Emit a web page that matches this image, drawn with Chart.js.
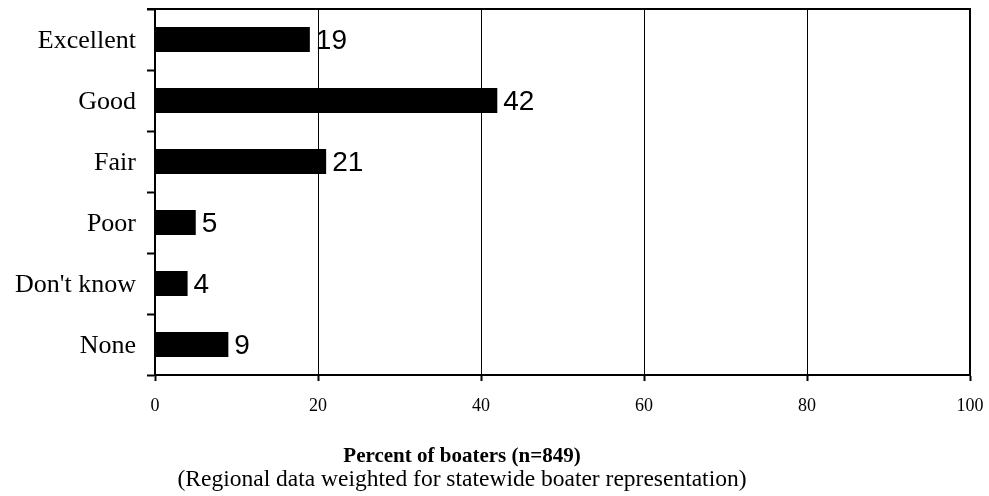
<!DOCTYPE html>
<html>
<head>
<meta charset="utf-8">
<script src="https://cdn.jsdelivr.net/npm/chart.js@4/dist/chart.umd.min.js"></script>
<style>
  html, body { margin: 0; padding: 0; background: #fff; }
  canvas { display: block; }
</style>
</head>
<body>
<canvas id="chart" width="989" height="496"></canvas>
<script>
// Boater ratings, percent of respondents
const categories = ["Excellent", "Good", "Fair", "Poor", "Don't know", "None"];
const percents = [19, 42, 21, 5, 4, 9];
const xTicks = [0, 20, 40, 60, 80, 100];
const axisTitle = "Percent of boaters (n=849)";
const axisNote = "(Regional data weighted for statewide boater representation)";

const SERIF = '"Liberation Serif", "Times New Roman", Times, serif';
const SANS = '"Liberation Sans", Arial, Helvetica, sans-serif';

// Numbers printed just past the end of each bar
const valueLabels = {
  id: 'valueLabels',
  afterDatasetsDraw(chart) {
    const ctx = chart.ctx;
    const meta = chart.getDatasetMeta(0);
    const data = chart.data.datasets[0].data;
    ctx.save();
    ctx.font = '28px ' + SANS;
    ctx.fillStyle = '#000';
    ctx.textAlign = 'left';
    ctx.textBaseline = 'middle';
    meta.data.forEach((bar, i) => {
      ctx.fillText(String(data[i]), bar.x + 6, bar.y + 2);
    });
    ctx.restore();
  }
};

// Top and right frame lines, plus the two-line axis caption
const frameAndCaption = {
  id: 'frameAndCaption',
  afterDraw(chart) {
    const ctx = chart.ctx;
    const a = chart.chartArea;
    ctx.save();
    ctx.strokeStyle = '#000';
    ctx.lineWidth = 2;
    ctx.beginPath();
    ctx.moveTo(a.left - 8, a.top);
    ctx.lineTo(a.right, a.top);
    ctx.lineTo(a.right, a.bottom);
    ctx.stroke();

    ctx.fillStyle = '#000';
    ctx.textAlign = 'center';
    ctx.textBaseline = 'alphabetic';
    ctx.font = 'bold 21px ' + SERIF;
    ctx.fillText(axisTitle, 462, 462);
    ctx.font = '23.5px ' + SERIF;
    ctx.fillText(axisNote, 462, 486);
    ctx.restore();
  }
};

new Chart(document.getElementById('chart'), {
  type: 'bar',
  data: {
    labels: categories,
    datasets: [{
      data: percents,
      backgroundColor: '#000',
      borderWidth: 0,
      categoryPercentage: 1,
      barPercentage: 0.41
    }]
  },
  options: {
    indexAxis: 'y',
    responsive: false,
    animation: false,
    layout: { padding: { top: 9, right: 19, left: 0, bottom: 0 } },
    plugins: {
      legend: { display: false },
      tooltip: { enabled: false },
      title: { display: false }
    },
    scales: {
      x: {
        type: 'linear',
        min: 0,
        max: 100,
        afterBuildTicks(scale) {
          scale.ticks = xTicks.map(v => ({ value: v }));
        },
        afterFit(scale) {
          scale.height = 121;
          scale.paddingLeft = 0;
          scale.paddingRight = 0;
        },
        grid: {
          color: '#000',
          lineWidth: 1,
          drawOnChartArea: true,
          drawTicks: true,
          tickLength: 6,
          tickWidth: 2,
          tickColor: '#000'
        },
        border: { display: true, color: '#000', width: 2 },
        ticks: {
          color: '#000',
          padding: 14,
          font: { family: SERIF, size: 18 }
        }
      },
      y: {
        afterFit(scale) {
          scale.width = 155;
          scale.paddingTop = 0;
          scale.paddingBottom = 0;
        },
        grid: {
          offset: true,
          drawOnChartArea: false,
          drawTicks: true,
          tickLength: 8,
          tickWidth: 2,
          tickColor: '#000',
          color: '#000'
        },
        border: { display: true, color: '#000', width: 2 },
        ticks: {
          color: '#000',
          padding: 11,
          labelOffset: 2,
          font: { family: SERIF, size: 26 }
        }
      }
    }
  },
  plugins: [valueLabels, frameAndCaption]
});
</script>
</body>
</html>
